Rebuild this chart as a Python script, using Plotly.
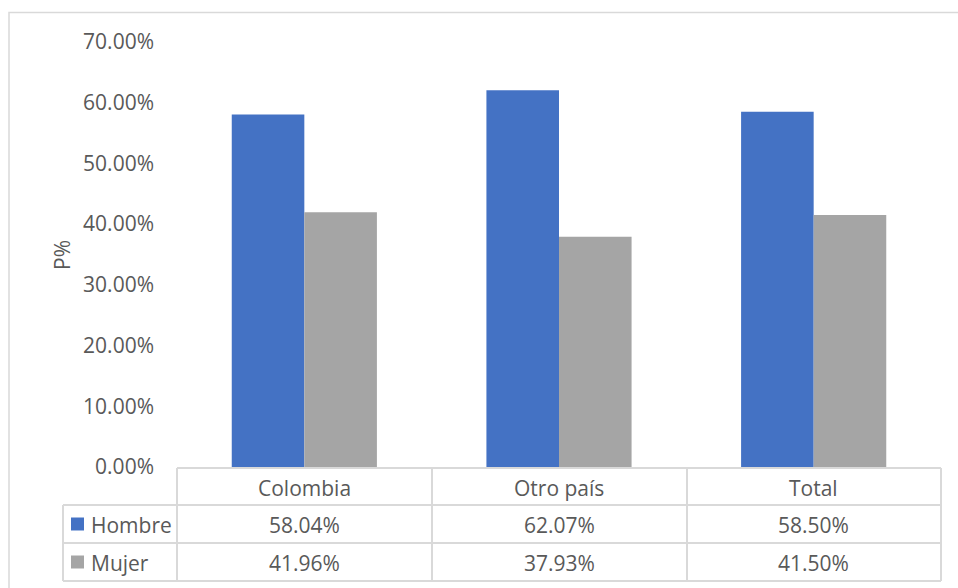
import plotly.graph_objects as go

# Data
categories = ["Colombia", "Otro país", "Total"]
series_names = ["Hombre", "Mujer"]
hombre = [0.5804, 0.6207, 0.5850]
mujer = [0.4196, 0.3793, 0.4150]
y_ticks = [0.0, 0.1, 0.2, 0.3, 0.4, 0.5, 0.6, 0.7]

W, H = 958, 588
COLORS = ["#4472C4", "#A5A5A5"]
TXT = "#595959"
LINE = "#D9D9D9"
FONT = "Open Sans"
FS = 21


def px(x):
    return x / W


def py(y):
    return 1 - y / H


# plot area in pixels
L, R, T, B = 177, 941, 42, 467

fig = go.Figure()
for name, vals, col in zip(series_names, [hombre, mujer], COLORS):
    fig.add_trace(go.Bar(x=categories, y=vals, name=name, marker_color=col,
                         marker_line_width=0, hoverinfo="skip"))

fig.update_layout(
    width=W, height=H,
    margin=dict(l=0, r=0, t=0, b=0, pad=0, autoexpand=False),
    paper_bgcolor="white", plot_bgcolor="white",
    barmode="group", bargap=0.43, bargroupgap=0,
    showlegend=False,
    font=dict(family=FONT, size=FS, color=TXT),
    xaxis=dict(domain=[px(L), px(R)], showticklabels=False, showgrid=False,
               showline=False, zeroline=False, ticks="", automargin=False),
    yaxis=dict(domain=[py(B), py(T)], range=[0, 0.7], tickvals=y_ticks,
               tickformat=".2%", showgrid=False, zeroline=False, showline=False,
               ticks="", ticklabelstandoff=22, automargin=False,
               tickfont=dict(family=FONT, size=FS, color=TXT)),
)

shapes = []


def hline(x0, x1, y):
    shapes.append(dict(type="line", xref="paper", yref="paper",
                       x0=px(x0), x1=px(x1), y0=py(y), y1=py(y),
                       line=dict(color=LINE, width=2)))


def vline(x, y0, y1):
    shapes.append(dict(type="line", xref="paper", yref="paper",
                       x0=px(x), x1=px(x), y0=py(y0), y1=py(y1),
                       line=dict(color=LINE, width=2)))


# outer chart border
shapes.append(dict(type="rect", xref="paper", yref="paper",
                   x0=px(9), x1=px(962), y0=py(12.5), y1=py(592),
                   line=dict(color=LINE, width=1.5)))

# data table grid
row_y = [468, 505, 543, 581]
col_x = [177, 432, 687, 941]
hline(177, 941, row_y[0])
for y in row_y[1:]:
    hline(63, 941, y)
for x in col_x:
    vline(x, row_y[0], row_y[3])
vline(63, row_y[1], row_y[3])

# legend keys in the table
for i, col in enumerate(COLORS):
    yc = (row_y[i + 1] + row_y[i + 2]) / 2
    shapes.append(dict(type="rect", xref="paper", yref="paper",
                       x0=px(71), x1=px(84), y0=py(yc - 6.5), y1=py(yc + 6.5),
                       fillcolor=col, line=dict(width=0)))

annotations = []
# category header row
for c in categories:
    annotations.append(dict(x=c, xref="x", y=py((row_y[0] + row_y[1]) / 2 + 1),
                            yref="paper", text=c, showarrow=False,
                            xanchor="center", yanchor="middle",
                            font=dict(family=FONT, size=FS, color=TXT)))
# series rows
for i, (name, vals) in enumerate(zip(series_names, [hombre, mujer])):
    yc = py((row_y[i + 1] + row_y[i + 2]) / 2 + 1)
    annotations.append(dict(x=px(89), xref="paper", y=yc, yref="paper",
                            text=name, showarrow=False, xanchor="left",
                            yanchor="middle",
                            font=dict(family=FONT, size=FS, color=TXT)))
    for c, v in zip(categories, vals):
        annotations.append(dict(x=c, xref="x", y=yc, yref="paper",
                                text=f"{v * 100:.2f}%", showarrow=False,
                                xanchor="center", yanchor="middle",
                                font=dict(family=FONT, size=FS, color=TXT)))

# y-axis title
annotations.append(dict(x=px(62), xref="paper", y=py(255), yref="paper",
                        text="P%", textangle=-90, showarrow=False,
                        xanchor="center", yanchor="middle",
                        font=dict(family=FONT, size=FS, color=TXT)))

fig.update_layout(shapes=shapes, annotations=annotations)
fig.write_html("out.html")
